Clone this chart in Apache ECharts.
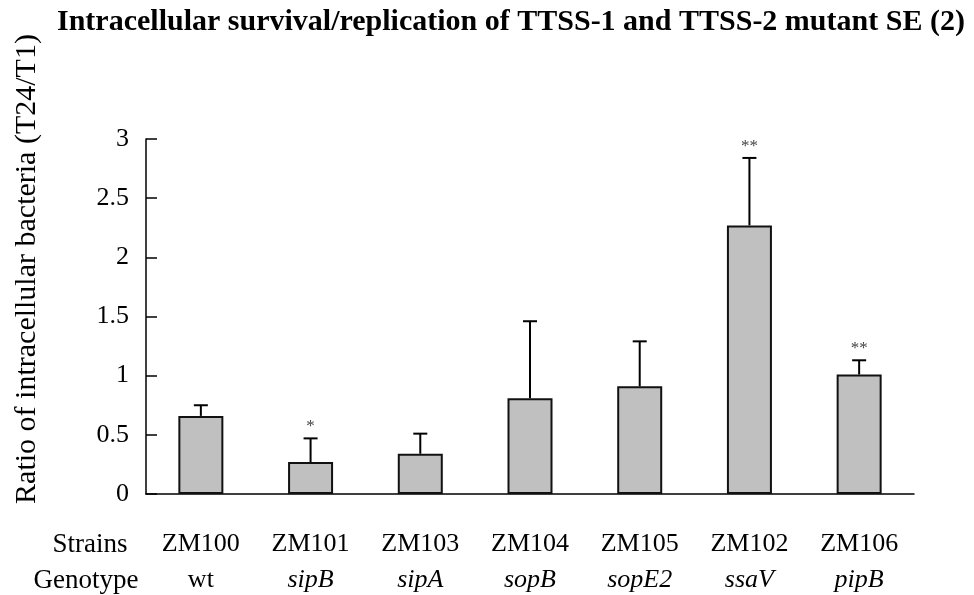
<!DOCTYPE html>
<html>
<head>
<meta charset="utf-8">
<script src="https://cdn.jsdelivr.net/npm/echarts@6/dist/echarts.min.js"></script>
<style>
  html, body { margin: 0; padding: 0; background: #fff; }
  #main { width: 974px; height: 595px; }
</style>
</head>
<body>
<div id="main"></div>
<script>
  const strains = ['ZM100', 'ZM101', 'ZM103', 'ZM104', 'ZM105', 'ZM102', 'ZM106']
  const genotypes = ['wt', 'sipB', 'sipA', 'sopB', 'sopE2', 'ssaV', 'pipB']
  const means = [0.66, 0.27, 0.34, 0.81, 0.91, 2.27, 1.01]
  const upper = [0.75, 0.47, 0.51, 1.46, 1.29, 2.84, 1.13]
  const sig = ['', '*', '', '', '', '**', '**']

  const FONT = '"Liberation Serif", "Times New Roman", serif'
  let chart = echarts.init(document.getElementById('main'))

  let errData = means.map((m, i) => [i, m, upper[i]])

  let option = {
    backgroundColor: '#fff',
    animation: false,
    textStyle: { fontFamily: FONT, color: '#000' },
    title: {
      text: 'Intracellular survival/replication of TTSS-1 and TTSS-2 mutant SE (2)',
      left: 52,
      top: 2,
      textStyle: { fontFamily: FONT, fontSize: 30, fontWeight: 'bold', color: '#000' }
    },
    grid: { left: 146, right: 60, top: 139, bottom: 101 },
    xAxis: {
      type: 'category',
      data: strains,
      axisLine: { lineStyle: { color: '#000', width: 1.5 } },
      axisTick: { inside: true, length: 12, lineStyle: { color: '#000', width: 1.5 } },
      axisLabel: {
        margin: 32,
        formatter: (val, idx) => {
          let g = genotypes[idx]
          return '{a|' + val + '}\n' + (g === 'wt' ? '{a|' : '{b|') + g + '}'
        },
        rich: {
          a: { fontFamily: FONT, fontSize: 26, lineHeight: 36, color: '#000' },
          b: { fontFamily: FONT, fontSize: 26, lineHeight: 36, fontStyle: 'italic', color: '#000' }
        }
      }
    },
    yAxis: {
      type: 'value',
      min: 0,
      max: 3,
      interval: 0.5,
      splitLine: { show: false },
      axisLine: { show: true, lineStyle: { color: '#000', width: 1.5 } },
      axisTick: { show: true, inside: true, length: 11, lineStyle: { color: '#000', width: 1.5 } },
      axisLabel: { fontFamily: FONT, fontSize: 26, color: '#000', margin: 17 }
    },
    graphic: [
      {
        type: 'text', x: 27, y: 269, rotation: Math.PI / 2,
        style: {
          text: 'Ratio of intracellular bacteria (T24/T1)', font: '30px ' + FONT,
          fill: '#000', textAlign: 'center', textVerticalAlign: 'middle'
        }
      },
      {
        type: 'text', x: 90, y: 545,
        style: { text: 'Strains', font: '27px ' + FONT, fill: '#000', textAlign: 'center', textVerticalAlign: 'middle' }
      },
      {
        type: 'text', x: 86, y: 581,
        style: { text: 'Genotype', font: '27px ' + FONT, fill: '#000', textAlign: 'center', textVerticalAlign: 'middle' }
      }
    ],
    series: [
      {
        type: 'bar',
        data: means,
        barWidth: 45,
        itemStyle: { color: '#c0c0c0', borderColor: '#111', borderWidth: 2 }
      },
      {
        type: 'custom',
        data: errData,
        z: 5,
        clip: false,
        renderItem: (params, api) => {
          let i = api.value(0)
          let base = api.coord([i, api.value(1)])
          let top = api.coord([i, api.value(2)])
          let x = base[0]
          let cap = 7
          let children = [
            { type: 'line', shape: { x1: x, y1: base[1], x2: x, y2: top[1] }, style: { stroke: '#000', lineWidth: 2 } },
            { type: 'line', shape: { x1: x - cap, y1: top[1], x2: x + cap, y2: top[1] }, style: { stroke: '#000', lineWidth: 2 } }
          ]
          let s = sig[params.dataIndex]
          if (s) {
            children.push({
              type: 'text', x: x, y: top[1] - 3,
              style: { text: s, font: '17px ' + FONT, fill: '#444', textAlign: 'center', textVerticalAlign: 'bottom' }
            })
          }
          return { type: 'group', children: children }
        }
      }
    ]
  }
  chart.setOption(option)
</script>
</body>
</html>
